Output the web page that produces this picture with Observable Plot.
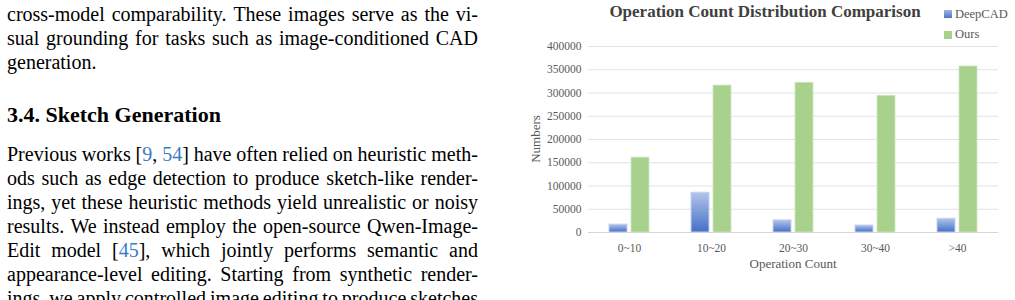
<!DOCTYPE html>
<html>
<head>
<meta charset="utf-8">
<script src="https://cdn.jsdelivr.net/npm/d3@7"></script>
<script src="https://cdn.jsdelivr.net/npm/@observablehq/plot@0.6"></script>
<style>
  html, body { margin: 0; padding: 0; background: #fff; }
  body { width: 1015px; height: 300px; overflow: hidden; position: relative; }
  .serif { font-family: "Liberation Serif", "Times New Roman", serif; }
  #text { position: absolute; left: 7px; width: 471px; font-size: 20px; line-height: 24px; color: #000; }
  .row { display: flex; justify-content: space-between; white-space: nowrap; height: 24px; }
  .row span.w { white-space: nowrap; }
  .plain { white-space: nowrap; height: 24px; }
  .cite { color: #3a7cc4; }
  h3 { position: absolute; left: 7px; top: 102px; margin: 0; font-size: 22px; line-height: 26px; font-weight: bold; white-space: nowrap; }
  .ov { position: absolute; white-space: nowrap; }
</style>
</head>
<body>
<div id="para1" class="serif" style="position:absolute; left:7px; top:2px; width:471px; font-size:20px; line-height:24px;"></div>
<h3 class="serif">3.4. Sketch Generation</h3>
<div id="para2" class="serif" style="position:absolute; left:7px; top:142px; width:471px; font-size:20px; line-height:24px;"></div>

<div id="chart" style="position:absolute; left:520px; top:0px;"></div>

<div class="ov serif" style="left:765px; top:2px; transform:translateX(-50%); font-size:17px; line-height:20px; font-weight:bold; color:#404040;">Operation Count Distribution Comparison</div>
<div class="ov" style="left:944px; top:10px; width:8px; height:8px; background:linear-gradient(#9fb6e6,#4a74c8);"></div>
<div class="ov serif" style="left:955px; top:7px; font-size:12.5px; line-height:14px; color:#595959;">DeepCAD</div>
<div class="ov" style="left:944px; top:31px; width:8px; height:8px; background:#a9d18e;"></div>
<div class="ov serif" style="left:955px; top:27px; font-size:12.5px; line-height:14px; color:#595959;">Ours</div>
<div class="ov serif" style="left:536px; top:139px; transform:translate(-50%,-50%) rotate(-90deg); font-size:13px; line-height:16px; color:#595959;">Numbers</div>
<div class="ov serif" style="left:793px; top:256px; transform:translateX(-50%); font-size:13px; line-height:16px; color:#595959;">Operation Count</div>

<script>
// ---- text content ----
const para1Lines = [
  "cross-model comparability.  These images serve as the vi-",
  "sual grounding for tasks such as image-conditioned CAD"
];
const para1Last = "generation.";
const para2Lines = [
  "Previous works [{9}, {54}] have often relied on heuristic meth-",
  "ods such as edge detection to produce sketch-like render-",
  "ings, yet these heuristic methods yield unrealistic or noisy",
  "results.  We instead employ the open-source Qwen-Image-",
  "Edit model [{45}], which jointly performs semantic and",
  "appearance-level editing.  Starting from synthetic render-",
  "ings, we apply controlled image editing to produce sketches"
];

// ---- chart data ----
const categories = ["0~10", "10~20", "20~30", "30~40", ">40"];
const deepcadValues = [17000, 85500, 26000, 15000, 29500];
const oursValues = [161000, 316000, 322000, 294000, 357000];
const yTicks = [0, 50000, 100000, 150000, 200000, 250000, 300000, 350000, 400000];

function fmt(word) {
  return word.replace(/\{(\d+)\}/g, '<span class="cite">$1</span>');
}
function addRow(container, line) {
  const row = document.createElement("div");
  row.className = "row";
  line.split(/\s+/).forEach(w => {
    const s = document.createElement("span");
    s.className = "w";
    s.innerHTML = fmt(w);
    row.appendChild(s);
  });
  container.appendChild(row);
}
const p1 = document.getElementById("para1");
para1Lines.forEach(l => addRow(p1, l));
const last = document.createElement("div");
last.className = "plain";
last.textContent = para1Last;
p1.appendChild(last);
const p2 = document.getElementById("para2");
para2Lines.forEach(l => addRow(p2, l));

const rows = categories.map((c, i) => ({category: c, deepcad: deepcadValues[i], ours: oursValues[i]}));

const chart = Plot.plot({
  width: 495,
  height: 280,
  marginTop: 46,
  marginBottom: 48,
  marginLeft: 68,
  marginRight: 17,
  style: {fontFamily: "'Liberation Serif', 'Times New Roman', serif", fontSize: "11.5px", color: "#595959", background: "transparent", overflow: "visible"},
  x: {domain: categories, padding: 0, tickSize: 0, tickPadding: 11, label: null},
  y: {domain: [0, 400000], ticks: yTicks, tickFormat: "d", tickSize: 0, tickPadding: 7, label: null},
  marks: [
    Plot.ruleY(yTicks.filter(d => d > 0), {stroke: "#e2e2e2", strokeWidth: 1}),
    Plot.ruleY([0], {stroke: "#d6d6d6", strokeWidth: 1.2}),
    Plot.barY(rows, {x: "category", y: "deepcad", insetLeft: 21, insetRight: 43, fill: "url(#deepGrad)", stroke: "#c3d1ef", strokeWidth: 1}),
    Plot.barY(rows, {x: "category", y: "ours", insetLeft: 43, insetRight: 21, fill: "#a9d18e", stroke: "#cfe6c1", strokeWidth: 0.8})
  ]
});
d3.select(chart).insert("defs", ":first-child").html(
  '<linearGradient id="deepGrad" x1="0" y1="0" x2="0" y2="1">' +
  '<stop offset="0" stop-color="#b3c5ea"/><stop offset="1" stop-color="#4470c6"/></linearGradient>'
);
document.getElementById("chart").appendChild(chart);
</script>
</body>
</html>
